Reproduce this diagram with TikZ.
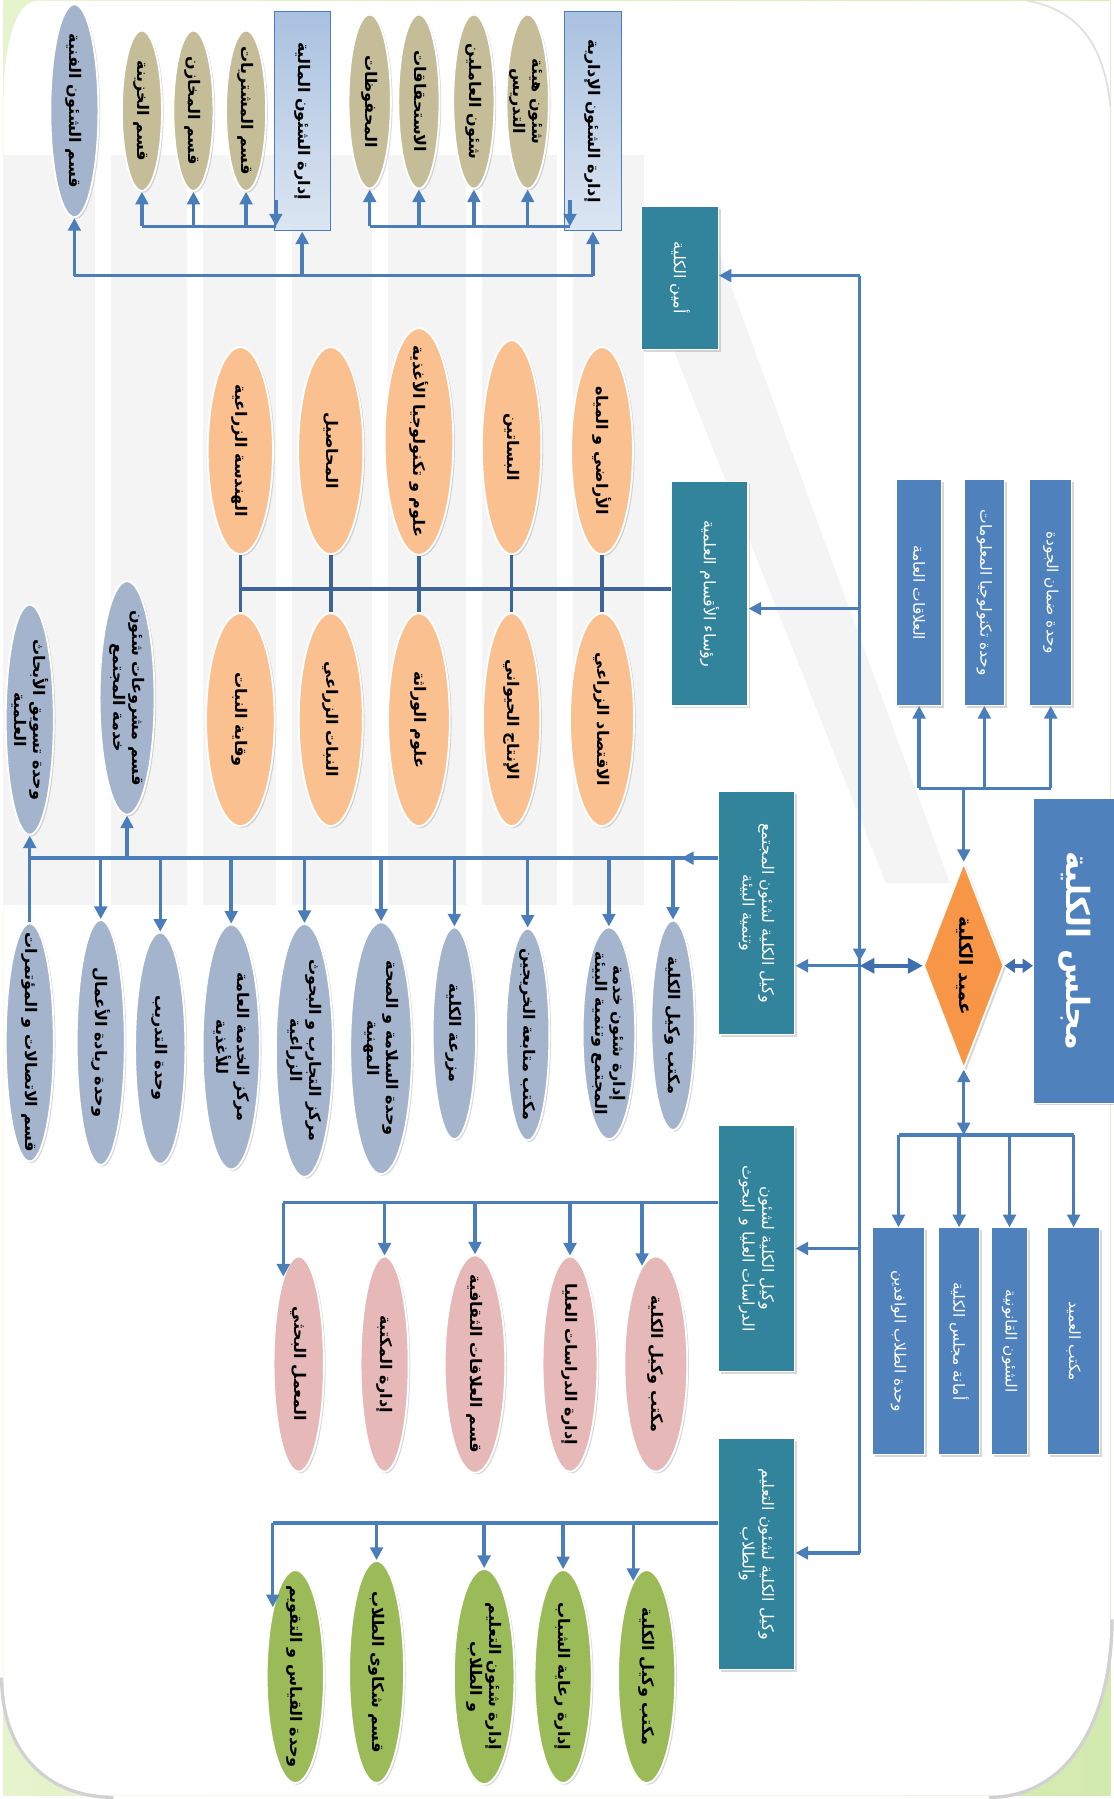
\documentclass[tikz,border=0pt]{standalone}
\usepackage{fontspec}
\newfontfamily\arabicfont[Script=Arabic]{DejaVu Sans}
\TeXXeTstate=1
\usetikzlibrary{shapes.geometric,arrows.meta,shadows,calc}
\definecolor{lineblue}{HTML}{4A7EBB}
\definecolor{darkline}{HTML}{3E6496}
\definecolor{strongblue}{HTML}{3F6FAE}
\definecolor{tealc}{HTML}{31849B}
\definecolor{blueR}{HTML}{4F81BD}
\definecolor{tanc}{HTML}{C4BD97}
\definecolor{orangeE}{HTML}{FAC090}
\definecolor{greyE}{HTML}{A3B4CC}
\definecolor{pinkE}{HTML}{E6B9B8}
\definecolor{greenE}{HTML}{9BBB59}
\definecolor{deanc}{HTML}{F79646}
\definecolor{topA}{HTML}{DCE6F2}
\definecolor{topDark}{HTML}{A9C1E0}
\definecolor{bgA}{HTML}{E6F3CC}
\definecolor{bgB}{HTML}{D3EAAE}
\definecolor{wmark}{HTML}{F4F4F4}
\newcommand\AR[1]{\beginR#1\endR}
\newcommand\ZT[1]{\smash{\makebox[0pt]{\raisebox{-0.3em}{\begin{tabular}{@{}c@{}}#1\end{tabular}}}}}
\begin{document}
\begin{tikzpicture}[x=1pt,y=-1pt,
 ln/.style={draw=lineblue, line width=3pt},
 arr/.style={ln, -{Triangle[length=11pt,width=11pt]}},
 barr/.style={ln, {Triangle[length=11pt,width=11pt]}-{Triangle[length=11pt,width=11pt]}},
 tk/.style={draw=darkline, line width=3pt},
 ell/.style={ellipse, rotate=-90, draw=white, line width=1.6pt, inner sep=0pt,
   font=\arabicfont\bfseries\fontsize{14}{16.5}\selectfont,
   drop shadow={opacity=0.3, shadow xshift=1.5pt, shadow yshift=-1.5pt}},
 tanE/.style={ell, fill=tanc},
 oE/.style={ell, fill=orangeE},
 gE/.style={ell, fill=greyE},
 pE/.style={ell, fill=pinkE},
 vE/.style={ell, fill=greenE},
 tealB/.style={rectangle, rotate=-90, fill=tealc, draw=white, line width=1pt, text=white,
   inner sep=2pt, align=center, font=\arabicfont\fontsize{14}{17}\selectfont,
   drop shadow={opacity=0.3, shadow xshift=2pt, shadow yshift=-2pt}},
 blueB/.style={rectangle, rotate=-90, fill=blueR, draw=white, line width=1pt, text=white,
   inner sep=2pt, align=center, font=\arabicfont\fontsize{13.5}{15}\selectfont,
   drop shadow={opacity=0.3, shadow xshift=2pt, shadow yshift=-2pt}},
 topR/.style={rectangle, rotate=-90, top color=topDark, bottom color=topA, draw=lineblue,
   line width=1pt, text=black, inner sep=2pt,
   font=\arabicfont\bfseries\fontsize{14}{16}\selectfont}
]
% ---------- background ----------
\shade[left color=bgA, right color=bgB] (0,0) rectangle (967,1568);
\draw[black!18, line width=6pt] (967,1414) .. controls (967,1500) and (930,1568) .. (861,1568);
\draw[black!18, line width=6pt] (96,1568) .. controls (40,1568) and (0,1530) .. (0,1465);
\fill[white] (30,0) -- (967,0) -- (967,1414) .. controls (967,1500) and (930,1568) .. (861,1568)
  -- (96,1568) .. controls (40,1568) and (0,1530) .. (0,1465) -- (0,90)
  .. controls (0,40) and (10,0) .. (30,0) -- cycle;
\draw[black!12, line width=1.5pt] (895,0) .. controls (940,8) and (962,40) .. (967,92);
% faint watermark
\fill[wmark] (0,135) rectangle (560,790);
\foreach \gx in {80,160,238,322,404,484}{
  \fill[white] (\gx,135) rectangle ++(14,655);
}
\fill[wmark] (543,198) -- (617,198) -- (827,771) -- (771,771) -- cycle;
\useasboundingbox (0,0) rectangle (967,1568);

% ---------- top : administration ----------
\node[topR, minimum width=192, minimum height=50] (adm) at (515,105) {\AR{إدارة الشئون الإدارية}};
\node[tanE, minimum width=152, minimum height=37] (a1) at (458,88) {\ZT{\AR{شئون هيئة}\\\AR{التدريس}}};
\node[tanE, minimum width=152, minimum height=36] (a2) at (411,88) {\ZT{\AR{شئون العاملين}}};
\node[tanE, minimum width=152, minimum height=36] (a3) at (363,88) {\ZT{\AR{الاستحقاقات}}};
\node[tanE, minimum width=152, minimum height=37] (a4) at (320,88) {\ZT{\AR{المحفوظات}}};
\node[topR, minimum width=192, minimum height=49] (fin) at (261,105) {\AR{إدارة الشئون المالية}};
\node[tanE, minimum width=140, minimum height=35] (f1) at (212,96) {\ZT{\AR{قسم المشتريات}}};
\node[tanE, minimum width=140, minimum height=35] (f2) at (166,96) {\ZT{\AR{قسم المخازن}}};
\node[tanE, minimum width=140, minimum height=35] (f3) at (121,96) {\ZT{\AR{قسم الخزينة}}};
\node[gE, minimum width=186, minimum height=42] (fanni) at (62,96) {\ZT{\AR{قسم الشئون الفنية}}};
\node[tealB, minimum width=125, minimum height=67] (amin) at (591,242) {\AR{أمين الكلية}};

% ---------- departments ----------
\node[tealB, minimum width=196, minimum height=67] (heads) at (617,518) {\AR{رؤساء الأقسام العلمية}};
\node[oE, minimum width=181, minimum height=54] (o1) at (523,393) {\ZT{\AR{الأراضي و المياه}}};
\node[oE, minimum width=187, minimum height=52] (o2) at (444,390) {\ZT{\AR{البساتين}}};
\node[oE, minimum width=198, minimum height=60] (o3) at (363,385) {\ZT{\AR{علوم و تكنولوجيا الأغذية}}};
\node[oE, minimum width=181, minimum height=57] (o4) at (286,393) {\ZT{\AR{المحاصيل}}};
\node[oE, minimum width=181, minimum height=57] (o5) at (207,393) {\ZT{\AR{الهندسة الزراعية}}};
\node[oE, minimum width=186, minimum height=56] (l1) at (523,628) {\ZT{\AR{الاقتصاد الزراعي}}};
\node[oE, minimum width=186, minimum height=50] (l2) at (444,628) {\ZT{\AR{الإنتاج الحيواني}}};
\node[oE, minimum width=186, minimum height=54] (l3) at (363,628) {\ZT{\AR{علوم الوراثة}}};
\node[oE, minimum width=186, minimum height=56] (l4) at (286,628) {\ZT{\AR{النبات الزراعي}}};
\node[oE, minimum width=186, minimum height=60] (l5) at (207,628) {\ZT{\AR{وقاية النبات}}};

% ---------- right : council, dean ----------
\node[blueB, minimum width=197, minimum height=37] (qual) at (915,517) {\AR{وحدة ضمان الجودة}};
\node[blueB, minimum width=197, minimum height=35] (itu) at (857,517) {\AR{وحدة تكنولوجيا المعلومات}};
\node[blueB, minimum width=197, minimum height=39] (pr) at (800,517) {\AR{العلاقات العامة}};
\node[blueB, minimum width=266, minimum height=72, font=\arabicfont\bfseries\fontsize{28}{30}\selectfont] (council) at (936,830) {\AR{مجلس الكلية}};
\node[diamond, rotate=-90, minimum width=180, minimum height=70, inner sep=0pt, fill=deanc, draw=white,
  line width=1.5pt, font=\arabicfont\bfseries\fontsize{16}{18}\selectfont,
  drop shadow={opacity=0.3, shadow xshift=2pt, shadow yshift=-2pt}] (dean) at (839,843) {\ZT{\AR{عميد الكلية}}};
\node[blueB, minimum width=198, minimum height=45] (office) at (935,1171) {\AR{مكتب العميد}};
\node[blueB, minimum width=198, minimum height=32] (legal) at (879,1171) {\AR{الشئون القانونية}};
\node[blueB, minimum width=198, minimum height=36] (amana) at (835,1171) {\AR{أمانة مجلس الكلية}};
\node[blueB, minimum width=198, minimum height=45] (waf) at (782,1171) {\AR{وحدة الطلاب الوافدين}};

% ---------- vice deans ----------
\node[tealB, minimum width=212, minimum height=67] (comm) at (658,797) {\AR{وكيل الكلية لشئون المجتمع}\\\AR{وتنمية البيئة}};
\node[tealB, minimum width=215, minimum height=67] (grad) at (658,1090) {\AR{وكيل الكلية لشئون}\\\AR{الدراسات العليا و البحوث}};
\node[tealB, minimum width=202, minimum height=67] (edu) at (658,1357) {\AR{وكيل الكلية لشئون التعليم}\\\AR{والطلاب}};

% ---------- community ellipses ----------
\node[gE, minimum width=183, minimum height=38] (g1) at (585,895) {\ZT{\AR{مكتب وكيل الكلية}}};
\node[gE, minimum width=185, minimum height=46] (g2) at (529,902) {\ZT{\AR{إدارة شئون خدمة}\\\AR{المجتمع وتنمية البيئة}}};
\node[gE, minimum width=185, minimum height=38] (g3) at (458,903) {\ZT{\AR{مكتب متابعة الخريجين}}};
\node[gE, minimum width=185, minimum height=38] (g4) at (394,902) {\ZT{\AR{مزرعة الكلية}}};
\node[gE, minimum width=220, minimum height=54] (g5) at (330,915) {\ZT{\AR{وحدة السلامة و الصحة}\\\AR{المهنية}}};
\node[gE, minimum width=221, minimum height=50] (g6) at (263,917) {\ZT{\AR{مركز التجارب و البحوث}\\\AR{الزراعية}}};
\node[gE, minimum width=214, minimum height=50] (g7) at (199,914) {\ZT{\AR{مركز الخدمة العامة}\\\AR{للأغذية}}};
\node[gE, minimum width=202, minimum height=44] (g8) at (137,915) {\ZT{\AR{وحدة التدريب}}};
\node[gE, minimum width=214, minimum height=42] (g9) at (85,910) {\ZT{\AR{وحدة ريادة الأعمال}}};
\node[gE, minimum width=208, minimum height=42] (g10) at (23,910) {\ZT{\AR{قسم الاتصالات و المؤتمرات}}};
\node[gE, minimum width=204, minimum height=48] (gu1) at (108,609) {\ZT{\AR{قسم مشروعات شئون}\\\AR{خدمة المجتمع}}};
\node[gE, minimum width=201, minimum height=42] (gu2) at (23,628) {\ZT{\AR{وحدة تسويق الأبحاث}\\\AR{العلمية}}};

% ---------- graduate ellipses ----------
\node[pE, minimum width=188, minimum height=55] (p1) at (570,1191) {\ZT{\AR{مكتب وكيل الكلية}}};
\node[pE, minimum width=188, minimum height=48] (p2) at (495,1191) {\ZT{\AR{إدارة الدراسات العليا}}};
\node[pE, minimum width=190, minimum height=53] (p3) at (412,1191) {\ZT{\AR{قسم العلاقات الثقافية}}};
\node[pE, minimum width=188, minimum height=42] (p4) at (333,1191) {\ZT{\AR{إدارة المكتبة}}};
\node[pE, minimum width=188, minimum height=44] (p5) at (258,1191) {\ZT{\AR{المعمل البحثي}}};

% ---------- education ellipses ----------
\node[vE, minimum width=186, minimum height=50] (v1) at (562,1464) {\ZT{\AR{مكتب وكيل الكلية}}};
\node[vE, minimum width=186, minimum height=50] (v2) at (489,1464) {\ZT{\AR{إدارة رعاية الشباب}}};
\node[vE, minimum width=188, minimum height=53] (v3) at (420,1464) {\ZT{\AR{إدارة شئون التعليم}\\\AR{و الطلاب}}};
\node[vE, minimum width=194, minimum height=48] (v4) at (326,1460) {\ZT{\AR{قسم شكاوى الطلاب}}};
\node[vE, minimum width=186, minimum height=50] (v5) at (255,1464) {\ZT{\AR{وحدة القياس و التقويم}}};

% ---------- coordinates ----------
\coordinate (tTop) at (748,240);
\coordinate (tHeads) at (748,531);
\coordinate (tComm) at (748,843);
\coordinate (tGrad) at (748,1090);
\coordinate (tBot) at (748,1356);
\coordinate (ob) at (515,240);
\coordinate (admK) at (495,174);
\coordinate (ib) at (495,197);
\coordinate (finK) at (238,174);
\coordinate (fb) at (238,197);
\coordinate (hb) at (585,514);
\coordinate (cb) at (625,749);
\coordinate (pb) at (625,1050);
\coordinate (vb) at (625,1330);
\coordinate (qb) at (839,688);
\coordinate (db) at (839,991);
\coordinate (tArr) at (748,790);
\coordinate (tArrE) at (748,839);
\coordinate (cbA) at (592,749);

% ---------- connectors ----------
% trunk
\draw[ln] (tTop) -- (tBot);
\draw[arr] (tArr) -- (tArrE);
\draw[arr] (tTop) -- (tTop -| amin.north);
\draw[arr] (tHeads) -- (tHeads -| heads.north);
\draw[arr] (tComm) -- (tComm -| comm.north);
\draw[arr] (tGrad) -- (tGrad -| grad.north);
\draw[arr] (tBot) -- (tBot -| edu.north);
\draw[draw=strongblue, line width=3.5pt, {Triangle[length=13pt,width=13pt]}-{Triangle[length=13pt,width=13pt]}] (tComm) -- (dean.south);
\draw[draw=strongblue, line width=3.5pt, {Triangle[length=9pt,width=12pt]}-{Triangle[length=9pt,width=12pt]}] (dean.north) -- (dean.north -| council.south);

% dean top units
\draw[ln] (qb -| pr.east) -- (qb -| qual.east);
\draw[arr] (qb -| pr.east) -- (pr.east);
\draw[arr] (qb -| itu.east) -- (itu.east);
\draw[arr] (qb -| qual.east) -- (qual.east);
\draw[arr] (qb) -- (dean.west);

% dean bottom units
\draw[barr] (dean.east) -- (db);
\draw[ln] (db -| waf.west) -- (db -| office.west);
\draw[arr] (db -| waf.west) -- (waf.west);
\draw[arr] (db -| amana.west) -- (amana.west);
\draw[arr] (db -| legal.west) -- (legal.west);
\draw[arr] (db -| office.west) -- (office.west);

% top section
\draw[ln] (ob -| fanni.east) -- (ob);
\draw[arr] (ob -| fanni.east) -- (fanni.east);
\draw[arr] (ob -| fin.east) -- (fin.east);
\draw[arr] (ob) -- (adm.east);
\draw[arr] (admK) -- (ib);
\draw[ln] (ib) -- (ib -| a4.east);
\draw[arr] (ib -| a1.east) -- (a1.east);
\draw[arr] (ib -| a2.east) -- (a2.east);
\draw[arr] (ib -| a3.east) -- (a3.east);
\draw[arr] (ib -| a4.east) -- (a4.east);
\draw[arr] (finK) -- (fb);
\draw[ln] (fb) -- (fb -| f3.east);
\draw[arr] (fb -| f1.east) -- (f1.east);
\draw[arr] (fb -| f2.east) -- (f2.east);
\draw[arr] (fb -| f3.east) -- (f3.east);

% departments
\draw[tk] (hb -| heads.south) -- (hb -| o5.east);
\foreach \u/\d in {o1/l1,o2/l2,o3/l3,o4/l4,o5/l5}{
  \draw[tk] (\u.east) -- (\d.west);
}

% community
\draw[ln] (cb -| comm.south) -- (cb -| g10.west);
\draw[arr] (cb -| comm.south) -- (cbA);
\foreach \n in {g1,g2,g3,g4,g5,g6,g7,g8,g9}{
  \draw[arr] (cb -| \n.west) -- (\n.west);
}
\draw[ln] (g10.west) -- (cb -| g10.west);
\draw[arr] (cb -| gu2.east) -- (gu2.east);
\draw[arr] (cb -| gu1.east) -- (gu1.east);

% graduate
\draw[ln] (pb -| grad.south) -- (pb -| p5.190);
\draw[arr] (pb -| p1.188) -- (p1.188);
\draw[arr] (pb -| p2.west) -- (p2.west);
\draw[arr] (pb -| p3.west) -- (p3.west);
\draw[arr] (pb -| p4.west) -- (p4.west);
\draw[arr] (pb -| p5.190) -- (p5.190);

% education
\draw[ln] (vb -| edu.south) -- (vb -| v5.198);
\draw[arr] (vb -| v1.188) -- (v1.188);
\draw[arr] (vb -| v2.west) -- (v2.west);
\draw[arr] (vb -| v3.west) -- (v3.west);
\draw[arr] (vb -| v4.west) -- (v4.west);
\draw[arr] (vb -| v5.198) -- (v5.198);
\end{tikzpicture}
\end{document}
